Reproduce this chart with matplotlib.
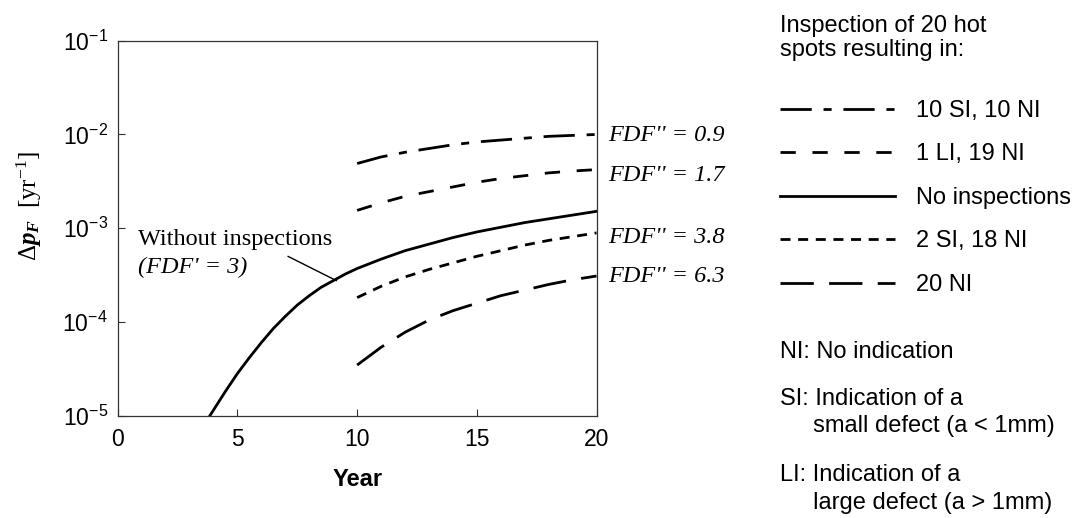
import matplotlib
matplotlib.use("Agg")
import matplotlib.pyplot as plt
import numpy as np

plt.rcParams['font.family'] = ['Liberation Sans', 'DejaVu Sans']
plt.rcParams['mathtext.fontset'] = 'custom'
plt.rcParams['mathtext.rm'] = 'Liberation Serif'
plt.rcParams['mathtext.it'] = 'Liberation Serif:italic'
plt.rcParams['mathtext.bf'] = 'Liberation Serif:bold'
plt.rcParams['mathtext.bfit'] = 'Liberation Serif:bold:italic'
plt.rcParams['lines.scale_dashes'] = False

# ---- data (log10 of annual failure probability increment) ----
year_none = [3.85, 4.0, 4.5, 5.0, 5.5, 6.0, 6.5, 7.0, 7.5, 8.0, 8.5, 9.0, 9.5, 10,
             11, 12, 13, 14, 15, 16, 17, 18, 19, 20]
log_none = [-5.00, -4.94, -4.74, -4.55, -4.38, -4.22, -4.07, -3.94, -3.82, -3.72,
            -3.63, -3.56, -3.49, -3.43, -3.33, -3.24, -3.17, -3.10, -3.04, -2.99,
            -2.94, -2.90, -2.86, -2.82]

year_insp = [10, 11, 12, 13, 14, 15, 16, 17, 18, 19, 20]
log_10si = [-2.31, -2.24, -2.19, -2.15, -2.11, -2.08, -2.06, -2.04, -2.02, -2.01, -2.00]
log_1li = [-2.81, -2.73, -2.66, -2.61, -2.56, -2.51, -2.47, -2.44, -2.41, -2.39, -2.375]
log_2si = [-3.74, -3.62, -3.52, -3.44, -3.37, -3.30, -3.24, -3.18, -3.13, -3.09, -3.05]
log_20ni = [-4.46, -4.27, -4.11, -3.98, -3.88, -3.80, -3.72, -3.66, -3.60, -3.55, -3.51]

legend_labels = ['10 SI, 10 NI', '1 LI, 19 NI', 'No inspections', '2 SI, 18 NI', '20 NI']
fdf_labels = ["FDF'' = 0.9", "FDF'' = 1.7", "FDF'' = 3.8", "FDF'' = 6.3"]
x_ticks = [0, 5, 10, 15, 20]
y_ticks = [1e-5, 1e-4, 1e-3, 1e-2, 1e-1]

styles = {
    '10si': (0, (22.5, 8.5, 5.8, 8.5)),
    '1li': (0, (11, 12)),
    'none': '-',
    '2si': (0, (7.2, 5.5)),
    '20ni': (0, (24, 11)),
}
lw = 2.0

fig = plt.figure(figsize=(10.77, 5.18), dpi=100)
ax = fig.add_axes([0.1093, 0.1975, 0.4446, 0.7239])

to_val = lambda arr: 10.0 ** np.asarray(arr)

h1, = ax.plot(year_insp, to_val(log_10si), color='black', lw=lw, ls=styles['10si'])
h2, = ax.plot(year_insp, to_val(log_1li), color='black', lw=lw, ls=styles['1li'])
h3, = ax.plot(year_none, to_val(log_none), color='black', lw=lw, ls=styles['none'])
h4, = ax.plot(year_insp, to_val(log_2si), color='black', lw=lw, ls=styles['2si'])
h5, = ax.plot(year_insp, to_val(log_20ni), color='black', lw=lw, ls=styles['20ni'])

ax.set_yscale('log')
ax.set_xlim(0, 20)
ax.set_ylim(1e-5, 1e-1)
ax.set_xticks(x_ticks)
ax.set_xticklabels([str(t) for t in x_ticks])
ax.set_yticks(y_ticks)
ax.set_yticklabels([r'$\mathdefault{10^{%d}}$' % int(np.log10(t)) for t in y_ticks])
ax.minorticks_off()
ax.tick_params(direction='in', length=5, width=0.8, labelsize=16.5, color='#333333')
ax.tick_params(axis='x', pad=9)
ax.tick_params(axis='y', pad=7)
for s in ax.spines.values():
    s.set_linewidth(0.9)
    s.set_color('#333333')

ax.set_xlabel('Year', fontsize=17, fontweight='bold', labelpad=12)
ax.set_ylabel(r'$\mathrm{\Delta}\mathbfit{p_F}\ \ \mathrm{[yr^{-1}]}$', fontsize=18)
ax.yaxis.set_label_coords(-0.154, 0.56)

# FDF'' labels at the right end of the curves
fdf_y = [10 ** -2.01, 10 ** -2.44, 10 ** -3.10, 10 ** -3.51]
for lab, yv in zip(fdf_labels, fdf_y):
    ax.annotate(lab, xy=(20, yv), xycoords='data', xytext=(8, 0),
                textcoords='offset points', ha='left', va='center',
                fontsize=17.5, family='Liberation Serif', style='italic',
                annotation_clip=False)

# "Without inspections" annotation
ax.text(0.835, 10 ** -3.18, 'Without inspections', fontsize=17.5,
        family='Liberation Serif', ha='left', va='baseline')
ax.text(0.835, 10 ** -3.475, "(FDF' = 3)", fontsize=17.5,
        family='Liberation Serif', style='italic', ha='left', va='baseline')
ax.annotate('', xy=(9.14, 10 ** -3.56), xytext=(7.11, 10 ** -3.30),
            arrowprops=dict(arrowstyle='-', color='black', lw=1.0,
                            shrinkA=0, shrinkB=0))

# Legend (right side)
fs_leg = 17
fig.text(780 / 1077, 1 - 38 / 518, 'Inspection of 20 hot\nspots resulting in:',
         fontsize=fs_leg, ha='left', va='center', linespacing=1.12)
fig.legend([h1, h2, h3, h4, h5], legend_labels, loc='upper left',
           bbox_to_anchor=(780 / 1077, 1 - 100 / 518), frameon=False,
           fontsize=fs_leg, handlelength=4.87, handletextpad=0.9,
           labelspacing=0.91, borderpad=0, borderaxespad=0)

fig.text(780 / 1077, 1 - 352 / 518, 'NI: No indication', fontsize=fs_leg,
         ha='left', va='center')
fig.text(780 / 1077, 1 - 412.5 / 518, 'SI: Indication of a\n     small defect (a < 1mm)',
         fontsize=fs_leg, ha='left', va='center', linespacing=1.3)
fig.text(780 / 1077, 1 - 489 / 518, 'LI: Indication of a\n     large defect (a > 1mm)',
         fontsize=fs_leg, ha='left', va='center', linespacing=1.3)

fig.savefig('out.png', dpi=100)
